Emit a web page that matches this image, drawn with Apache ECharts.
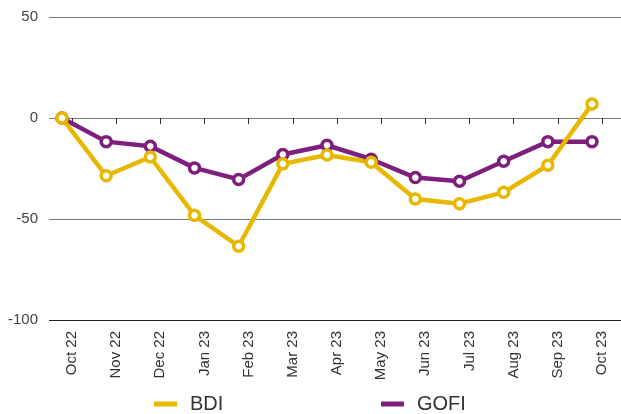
<!DOCTYPE html>
<html>
<head>
<meta charset="utf-8">
<script src="https://cdn.jsdelivr.net/npm/echarts@6/dist/echarts.min.js"></script>
<style>
  html, body { margin: 0; padding: 0; background: #fff; }
  #chart { width: 621px; height: 414px; }
</style>
</head>
<body>
<div id="chart"></div>
<script>
var months = ['Oct 22', 'Nov 22', 'Dec 22', 'Jan 23', 'Feb 23', 'Mar 23', 'Apr 23',
              'May 23', 'Jun 23', 'Jul 23', 'Aug 23', 'Sep 23', 'Oct 23'];
var bdi  = [0, -28.6, -19.3, -48.2, -63.5, -22.7, -18.3, -21.9, -40.1, -42.4, -36.8, -23.4, 6.9];
var gofi = [0, -11.7, -14, -24.7, -30.4, -18.1, -13.5, -20.4, -29.5, -31.3, -21.4, -11.7, -11.7];

var font = '"Liberation Sans", Arial, Helvetica, sans-serif';
var gold = '#E8B800';
var purple = '#7E1F7E';

var chart = echarts.init(document.getElementById('chart'));

// grid 0 = gridlines + y labels, grid 1 = data, grid 2 = month ticks/labels (shifted like the original)
var yBase = { type: 'value', min: -100, max: 50, interval: 50 };

chart.setOption({
  animation: false,
  grid: [
    { left: 49, right: 0, top: 17, bottom: 94 },
    { left: 62, right: 29, top: 17, bottom: 94 },
    { left: 72, right: 19, top: 17, bottom: 94 }
  ],
  xAxis: [
    { gridIndex: 0, type: 'category', data: months, show: false },
    { gridIndex: 1, type: 'category', data: months, boundaryGap: false, show: false },
    {
      gridIndex: 2, type: 'category', data: months, boundaryGap: false,
      axisLine: { show: false },
      axisTick: { show: true, length: 6, lineStyle: { color: '#333' } },
      axisLabel: { rotate: 90, margin: 11, fontSize: 15, color: '#333', fontFamily: font }
    }
  ],
  yAxis: [
    Object.assign({ gridIndex: 0 }, yBase, {
      axisLine: { show: false },
      axisTick: { show: false },
      axisLabel: { fontSize: 15, color: '#444', margin: 11, fontFamily: font },
      splitLine: { lineStyle: { color: ['#222', '#7a7a7a', '#7a7a7a', '#7a7a7a'] } }
    }),
    Object.assign({ gridIndex: 1 }, yBase, { show: false, splitLine: { show: false } }),
    Object.assign({ gridIndex: 2 }, yBase, { show: false, splitLine: { show: false } })
  ],
  legend: [
    {
      data: [{ name: 'BDI', itemStyle: { color: gold, borderWidth: 0 } }],
      left: 149, top: 389, icon: 'rect', itemWidth: 23, itemHeight: 5,
      textStyle: { fontSize: 20, color: '#333', fontFamily: font, padding: [0, 0, 0, 8] }
    },
    {
      data: [{ name: 'GOFI', itemStyle: { color: purple, borderWidth: 0 } }],
      left: 376, top: 389, icon: 'rect', itemWidth: 23, itemHeight: 5,
      textStyle: { fontSize: 20, color: '#333', fontFamily: font, padding: [0, 0, 0, 8] }
    }
  ],
  series: [
    {
      name: 'GOFI', type: 'line', data: gofi, xAxisIndex: 1, yAxisIndex: 1,
      symbol: 'circle', symbolSize: 10,
      lineStyle: { color: purple, width: 4.5 },
      itemStyle: { color: '#fff', borderColor: purple, borderWidth: 3.5 }
    },
    {
      name: 'BDI', type: 'line', data: bdi, xAxisIndex: 1, yAxisIndex: 1,
      symbol: 'circle', symbolSize: 10,
      lineStyle: { color: gold, width: 4.5 },
      itemStyle: { color: '#fff', borderColor: gold, borderWidth: 3.5 }
    }
  ]
});
</script>
</body>
</html>
